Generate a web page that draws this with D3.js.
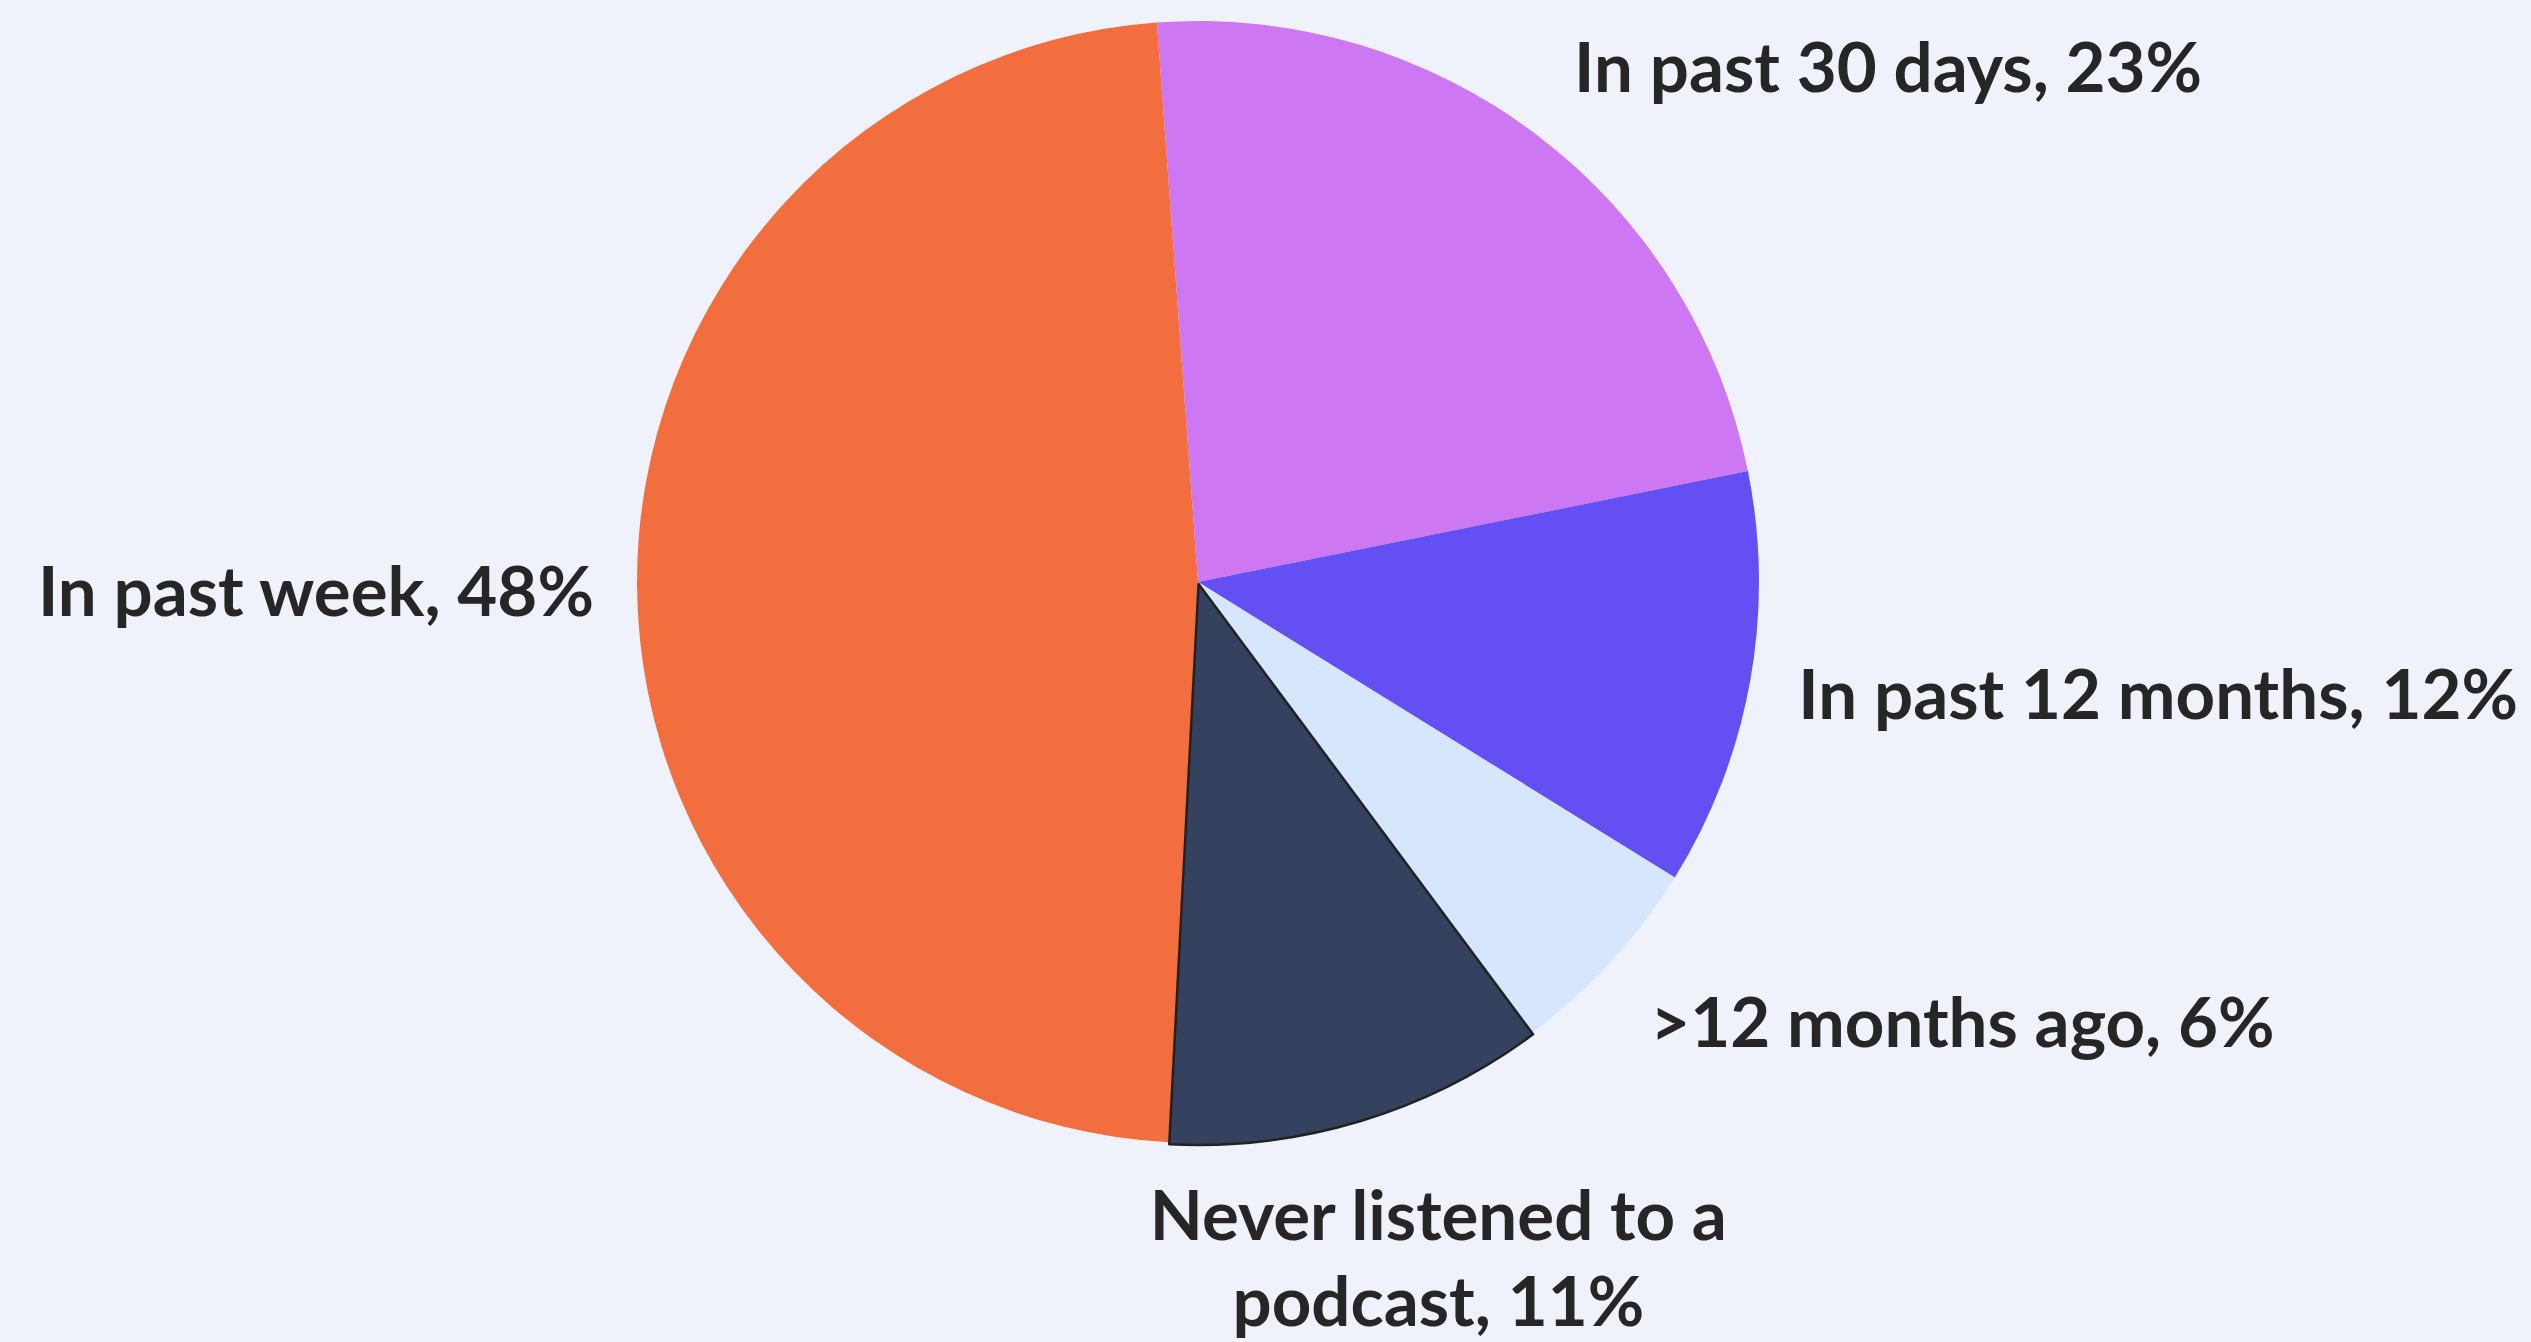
<!DOCTYPE html>
<html>
<head>
<meta charset="utf-8">
<script src="https://cdn.jsdelivr.net/npm/d3@7"></script>
<style>
  html, body { margin: 0; padding: 0; background: #EFF2FA; }
  svg { display: block; }
  text { font-family: Lato, "Open Sans", sans-serif; font-weight: 700; fill: #262626; }
</style>
</head>
<body>
<svg id="chart" width="2531" height="1342"></svg>
<script>
// Podcast listening recency, share of respondents (%)
const categories = [
  "In past 30 days",
  "In past 12 months",
  ">12 months ago",
  "Never listened to a podcast",
  "In past week"
];
const shares = [23, 12, 6, 11, 48];
const labelLines = [
  ["In past 30 days, 23%"],
  ["In past 12 months, 12%"],
  [">12 months ago, 6%"],
  ["Never listened to a", "podcast, 11%"],
  ["In past week, 48%"]
];

// Presentation
const colors = ["#CD78F2", "#644FF3", "#D5E6FD", "#34425F", "#F26E3E"];
const W = 2531, H = 1342;
const cx = 1198, cy = 582, R = 561;
const startDeg = -4.2;
const fontSize = 69;
const lineGap = 86;
// label placement: anchor side and nudge from the outer centroid
const labelLayout = [
  { anchor: "start",  dx: 3,   dy: -23 },
  { anchor: "start",  dx: -7,  dy: 3 },
  { anchor: "start",  dx: -2,  dy: 22 },
  { anchor: "middle", dx: 62,  dy: 85 },
  { anchor: "end",    dx: 13,  dy: 3 }
];
const pulled = { 3: 2 };   // slice index -> explode distance

const svg = d3.select("#chart");
svg.append("rect").attr("width", W).attr("height", H).attr("fill", "#EFF2FA");

const data = categories.map((c, i) => ({ name: c, value: shares[i], i }));
const start = startDeg * Math.PI / 180;
const pie = d3.pie().value(d => d.value).sort(null)
  .startAngle(start).endAngle(start + 2 * Math.PI);
const arcs = pie(data);

const arc = d3.arc().innerRadius(0).outerRadius(R);
const labelArc = d3.arc().innerRadius(R * 1.1).outerRadius(R * 1.1);

const g = svg.append("g").attr("transform", `translate(${cx},${cy})`);

g.selectAll("path.slice")
  .data(arcs)
  .join("path")
  .attr("class", "slice")
  .attr("d", arc)
  .attr("fill", d => colors[d.data.i])
  .attr("stroke", d => d.data.i === 3 ? "#222" : "none")
  .attr("stroke-width", d => d.data.i === 3 ? 2.5 : 0)
  .attr("stroke-linejoin", "round")
  .attr("transform", d => {
    const off = pulled[d.data.i] || 0;
    const a = (d.startAngle + d.endAngle) / 2;
    return `translate(${off * Math.sin(a)},${-off * Math.cos(a)})`;
  });

// raise the outlined slice so its border sits on top
g.selectAll("path.slice").filter(d => d.data.i === 3).raise();

const labels = g.selectAll("text.lbl")
  .data(arcs)
  .join("text")
  .attr("class", "lbl")
  .attr("font-size", fontSize)
  .attr("text-anchor", d => labelLayout[d.data.i].anchor)
  .attr("transform", d => {
    const [x, y] = labelArc.centroid(d);
    const L = labelLayout[d.data.i];
    return `translate(${x + L.dx},${y + L.dy})`;
  });

labels.each(function(d) {
  const lines = labelLines[d.data.i];
  const sel = d3.select(this);
  const n = lines.length;
  lines.forEach((t, k) => {
    sel.append("tspan")
      .attr("x", 0)
      .attr("y", (k - (n - 1) / 2) * lineGap)
      .attr("dy", "0.36em")
      .text(t);
  });
});
</script>
</body>
</html>
